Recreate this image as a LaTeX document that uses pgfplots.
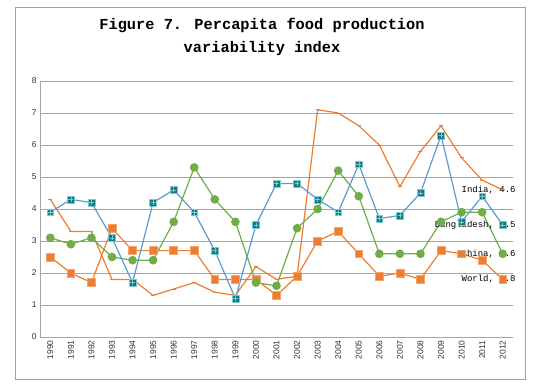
\documentclass[border=0pt]{standalone}
\usepackage{pgfplots}
\pgfplotsset{compat=1.18}
\usepackage{fontspec}
\setmainfont{Liberation Sans}
\newfontfamily\monofont{Liberation Mono}
\definecolor{orng}{HTML}{ED7D31}
\definecolor{orngl}{HTML}{F4A36A}
\definecolor{grn}{HTML}{70AD47}
\definecolor{blu}{HTML}{5B9BD5}
\definecolor{teal2}{HTML}{107A84}
\definecolor{teall}{HTML}{7FC8D0}
\definecolor{gridg}{HTML}{A6A6A6}
\definecolor{frameg}{HTML}{A0A0A0}
\begin{document}
\begin{tikzpicture}[x=1bp,y=1bp]
\path[use as bounding box] (0,0) rectangle (544,384);
\draw[color=frameg, line width=0.8bp] (15,5) rectangle (525,377);
\node[font=\monofont\bfseries\fontsize{15.4}{23}\selectfont, align=center] at (262,347.5) {Figure 7. Percapita food production\\variability index};
\begin{axis}[
  at={(40bp,47bp)}, anchor=south west, scale only axis,
  width=473bp, height=256bp,
  xmin=-0.5, xmax=22.5, ymin=0, ymax=8,
  ytick={0,1,...,8},
  xtick={0,...,22},
  xticklabels={1990,1991,1992,1993,1994,1995,1996,1997,1998,1999,2000,2001,2002,2003,2004,2005,2006,2007,2008,2009,2010,2011,2012},
  xticklabel style={rotate=90, anchor=east, font=\fontsize{8.5}{10}\selectfont, color=black!80},
  yticklabel style={font=\fontsize{8.5}{10}\selectfont, color=black!80},
  /pgf/number format/assume math mode=true,
  major tick length=0pt,
  axis x line*=bottom, axis y line*=left,
  axis line style={color=gridg, line width=0.8bp},
  ymajorgrids, grid style={color=gridg, line width=0.8bp},
  clip=false,
]
% India
\addplot[color=orng, line width=1.2bp, mark=-, mark size=2bp, mark options={line width=1bp}] coordinates {
(0,4.3)(1,3.3)(2,3.3)(3,1.8)(4,1.8)(5,1.3)(6,1.5)(7,1.7)(8,1.4)(9,1.3)(10,2.2)(11,1.8)(12,1.9)(13,7.1)(14,7.0)(15,6.6)(16,6.0)(17,4.7)(18,5.8)(19,6.6)(20,5.6)(21,4.9)(22,4.6)};
% World
\addplot[color=orng, line width=1.2bp, mark=square*, mark size=3.9bp, mark options={fill=orng, draw=orngl, line width=0.6bp}] coordinates {
(0,2.5)(1,2.0)(2,1.7)(3,3.4)(4,2.7)(5,2.7)(6,2.7)(7,2.7)(8,1.8)(9,1.8)(10,1.8)(11,1.3)(12,1.9)(13,3.0)(14,3.3)(15,2.6)(16,1.9)(17,2.0)(18,1.8)(19,2.7)(20,2.6)(21,2.4)(22,1.8)};
% China
\addplot[color=grn, line width=1.2bp, mark=*, mark size=3.7bp, mark options={fill=grn, draw=grn}] coordinates {
(0,3.1)(1,2.9)(2,3.1)(3,2.5)(4,2.4)(5,2.4)(6,3.6)(7,5.3)(8,4.3)(9,3.6)(10,1.7)(11,1.6)(12,3.4)(13,4.0)(14,5.2)(15,4.4)(16,2.6)(17,2.6)(18,2.6)(19,3.6)(20,3.9)(21,3.9)(22,2.6)};
% Bangladesh
\addplot[color=blu, line width=1.2bp, mark=square*, mark size=3.4bp, mark options={fill=teal2, draw=teall, line width=0.5bp}] coordinates {
(0,3.9)(1,4.3)(2,4.2)(3,3.1)(4,1.7)(5,4.2)(6,4.6)(7,3.9)(8,2.7)(9,1.2)(10,3.5)(11,4.8)(12,4.8)(13,4.3)(14,3.9)(15,5.4)(16,3.7)(17,3.8)(18,4.5)(19,6.3)(20,3.6)(21,4.4)(22,3.5)};
\addplot[only marks, mark=+, mark size=2.4bp, color=teall, mark options={line width=0.5bp}, forget plot] coordinates {
(0,3.9)(1,4.3)(2,4.2)(3,3.1)(4,1.7)(5,4.2)(6,4.6)(7,3.9)(8,2.7)(9,1.2)(10,3.5)(11,4.8)(12,4.8)(13,4.3)(14,3.9)(15,5.4)(16,3.7)(17,3.8)(18,4.5)(19,6.3)(20,3.6)(21,4.4)(22,3.5)};
\node[anchor=east, font=\monofont\fontsize{9}{10}\selectfont, inner sep=0pt] at ([xshift=13bp]axis cs:22,4.6) {India, 4.6};
\node[anchor=east, font=\monofont\fontsize{9}{10}\selectfont, inner sep=0pt] at ([xshift=13bp]axis cs:22,3.5) {Bangladesh, 3.5};
\node[anchor=east, font=\monofont\fontsize{9}{10}\selectfont, inner sep=0pt] at ([xshift=13bp]axis cs:22,2.6) {China, 2.6};
\node[anchor=east, font=\monofont\fontsize{9}{10}\selectfont, inner sep=0pt] at ([xshift=13bp]axis cs:22,1.8) {World, 1.8};
\end{axis}
\end{tikzpicture}
\end{document}
